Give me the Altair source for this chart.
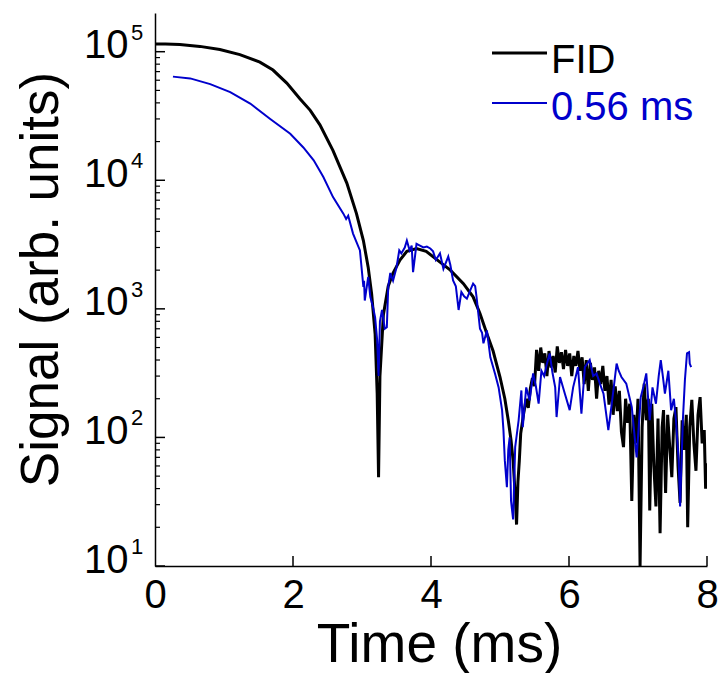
import altair as alt
import pandas as pd

# Free-induction decay (FID) signal versus time
fid_t = [0.00, 0.15, 0.36, 0.65, 0.94, 1.23, 1.52, 1.71, 1.91, 2.10, 2.25, 2.39, 2.58,
         2.78, 2.92, 3.02, 3.09, 3.14, 3.19, 3.22, 3.24, 3.26, 3.31, 3.38, 3.45, 3.55,
         3.65, 3.79, 3.93, 4.07, 4.28, 4.47, 4.61, 4.71, 4.81, 4.90, 5.00, 5.07, 5.12,
         5.16, 5.19, 5.22, 5.24, 5.26, 5.28, 5.30, 5.34, 5.38, 5.41, 5.44, 5.47, 5.50,
         5.53, 5.56, 5.59, 5.62, 5.65, 5.68, 5.71, 5.74, 5.77, 5.80, 5.83, 5.86, 5.89,
         5.92, 5.95, 5.98, 6.01, 6.04, 6.07, 6.10, 6.13, 6.16, 6.19, 6.22, 6.25, 6.28,
         6.31, 6.34, 6.37, 6.40, 6.43, 6.46, 6.49, 6.52, 6.55, 6.58, 6.61, 6.64, 6.67,
         6.70, 6.73, 6.76, 6.79, 6.82, 6.85, 6.88, 6.91, 6.94, 6.97, 7.00, 7.03, 7.06,
         7.09, 7.12, 7.15, 7.17, 7.20, 7.23, 7.26, 7.29, 7.32, 7.35, 7.37, 7.40, 7.43,
         7.46, 7.49, 7.52, 7.55, 7.58, 7.61, 7.64, 7.67, 7.70, 7.72, 7.75, 7.78, 7.81,
         7.84, 7.87, 7.90, 7.93, 7.96, 7.98, 8.00]
fid_v = [115000, 115000, 114000, 110000, 104000, 95000, 83000, 72000, 57000, 43000, 35000,
         27000, 17000, 9500, 5500, 3400, 2100, 1300, 640, 220, 49, 300, 900, 1500, 1900,
         2400, 2800, 2950, 2800, 2450, 2000, 1570, 1240, 920, 640, 470, 295, 200, 136,
         95, 66, 36, 21, 45, 66, 107, 150, 200, 170, 240, 290, 250,
         480, 330, 500, 380, 450, 300, 470, 350, 430, 320, 510, 380, 460,
         340, 480, 360, 450, 300, 430, 360, 470, 330, 420, 260, 400, 230,
         380, 280, 350, 200, 330, 260, 360, 230, 300, 180, 280, 150, 250,
         160, 230, 110, 84, 200, 130, 183, 32, 150, 90, 200, 10, 120,
         262, 136, 200, 27, 183, 60, 29, 140, 18, 120, 163, 37, 150,
         84, 49, 140, 172, 60, 31, 136, 80, 150, 20, 120, 196, 90,
         55, 150, 206, 90, 114, 40, 63]

# Signal after the 0.56 ms delay
echo_t = [0.26, 0.51, 0.80, 1.09, 1.38, 1.67, 1.96, 2.15, 2.30, 2.44, 2.58, 2.73, 2.77,
          2.80, 2.87, 2.97, 3.02, 3.03, 3.04, 3.09, 3.12, 3.16, 3.19, 3.22, 3.24, 3.26,
          3.29, 3.33, 3.36, 3.38, 3.41, 3.45, 3.50, 3.54, 3.57, 3.62, 3.65, 3.69, 3.72,
          3.74, 3.79, 3.84, 3.89, 3.94, 3.99, 4.03, 4.07, 4.13, 4.18, 4.25, 4.28, 4.32,
          4.36, 4.40, 4.44, 4.48, 4.52, 4.57, 4.61, 4.64, 4.66, 4.71, 4.74, 4.76, 4.81,
          4.86, 4.93, 4.98, 5.03, 5.05, 5.07, 5.10, 5.12, 5.14, 5.16, 5.19, 5.22, 5.27,
          5.31, 5.33, 5.38, 5.43, 5.48, 5.52, 5.56, 5.60, 5.64, 5.68, 5.72, 5.76, 5.80,
          5.82, 5.87, 5.94, 6.01, 6.06, 6.13, 6.18, 6.23, 6.30, 6.35, 6.40, 6.45, 6.50,
          6.57, 6.62, 6.69, 6.72, 6.76, 6.83, 6.91, 6.98, 7.04, 7.08, 7.12, 7.17, 7.21,
          7.26, 7.30, 7.33, 7.36, 7.39, 7.44, 7.48, 7.52, 7.55, 7.59, 7.61, 7.65, 7.68,
          7.71, 7.74, 7.75, 7.77]
echo_v = [64000, 62000, 56000, 48500, 39500, 30000, 23000, 18000, 14300, 10600, 7400, 5500,
          5000, 5300, 3850, 2850, 1480, 1650, 1160, 1770, 1240, 1030, 860, 570, 300, 800,
          980, 700, 720, 1480, 1900, 1660, 2100, 2850, 2700, 3000, 3400, 2850, 3100,
          1930, 3200, 3100, 3000, 3050, 2950, 2800, 2400, 2700, 2050, 2550, 2200, 1660,
          1500, 980, 1350, 1250, 1200, 1400, 1570, 1500, 1240, 700, 650, 540, 680,
          420, 310, 245, 163, 114, 66, 41, 80, 100, 32, 23, 84, 136,
          232, 120, 245, 194, 315, 250, 183, 330, 300, 375, 450, 320, 245,
          144, 295, 219, 163, 245, 352, 153, 352, 400, 300, 315, 260, 219,
          114, 183, 375, 330, 295, 262, 172, 70, 206, 250, 315, 136, 245,
          183, 300, 400, 300, 219, 330, 163, 200, 136, 66, 29, 136, 280,
          450, 460, 375, 352]

series_names = ["FID", "0.56 ms"]
series_colors = ["#000000", "#0000cc"]

major_ticks = [10, 100, 1000, 10000, 100000]
exponents = ["1", "2", "3", "4", "5"]
minor_ticks = [m * 10 ** d for d in range(1, 5) for m in range(2, 10)]
x_ticks = [2, 4, 6, 8]

fid = pd.DataFrame({"t": fid_t, "v": fid_v})
echo = pd.DataFrame({"t": echo_t, "v": echo_v})
majors = pd.DataFrame({"v": major_ticks, "e": exponents})
minors = pd.DataFrame({"v": minor_ticks})
xt = pd.DataFrame({"t": x_ticks})

W, H = 552, 553
FONT = "Liberation Sans"

xscale = alt.Scale(domain=[0, 8], nice=False)
yscale = alt.Scale(type="log", domain=[10, 200000], nice=False)

x_axis = alt.Axis(
    values=[0, 2, 4, 6, 8], format="d", ticks=False, grid=False, labelFontSize=40,
    labelFont=FONT, labelColor="black", labelPadding=9, labelFlush=False,
    domainColor="black", domainWidth=1.5,
    title="Time (ms)", titleFont=FONT, titleFontSize=55, titleFontWeight="normal",
    titleColor="black", titleBaseline="alphabetic", titleAnchor="middle",
    titleX=284, titleY=95,
)
y_axis = alt.Axis(
    values=major_ticks, ticks=False, grid=False, labelExpr="'10'",
    labelFontSize=40, labelFont=FONT, labelColor="black", labelPadding=27,
    labelBaseline="alphabetic", labelOffset=6, labelFlush=False,
    domainColor="black", domainWidth=1.5,
    title="Signal (arb. units)", titleFont=FONT, titleFontSize=53,
    titleFontWeight="normal", titleColor="black", titleBaseline="alphabetic",
    titleAngle=-90, titleAlign="center", titleX=-98, titleY=266,
)

fid_line = alt.Chart(fid).mark_line(
    color=series_colors[0], strokeWidth=3, clip=True
).encode(
    x=alt.X("t:Q", scale=xscale, axis=x_axis),
    y=alt.Y("v:Q", scale=yscale, axis=y_axis),
)

echo_line = alt.Chart(echo).mark_line(
    color=series_colors[1], strokeWidth=2, clip=True
).encode(
    x=alt.X("t:Q", scale=xscale),
    y=alt.Y("v:Q", scale=yscale),
)

# inward-pointing tick marks
major_rules = alt.Chart(majors).mark_rule(color="black", strokeWidth=1.5).encode(
    y=alt.Y("v:Q", scale=yscale), x=alt.value(0), x2=alt.value(10)
)
minor_rules = alt.Chart(minors).mark_rule(color="black", strokeWidth=1.2).encode(
    y=alt.Y("v:Q", scale=yscale), x=alt.value(0), x2=alt.value(5)
)
x_rules = alt.Chart(xt).mark_rule(color="black", strokeWidth=1.5).encode(
    x=alt.X("t:Q", scale=xscale), y=alt.value(H), y2=alt.value(H - 10)
)

# superscript exponents of the decade labels
exp_text = alt.Chart(majors).mark_text(
    font=FONT, fontSize=22, align="left", baseline="alphabetic", dy=-12, color="black"
).encode(
    y=alt.Y("v:Q", scale=yscale), x=alt.value(-24), text="e:N"
)

# legend
one = alt.Data(values=[{}])
leg_line1 = alt.Chart(one).mark_rule(color=series_colors[0], strokeWidth=3).encode(
    x=alt.value(337), x2=alt.value(392), y=alt.value(40)
)
leg_line2 = alt.Chart(one).mark_rule(color=series_colors[1], strokeWidth=2).encode(
    x=alt.value(337), x2=alt.value(392), y=alt.value(90)
)
leg_text1 = alt.Chart(one).mark_text(
    font=FONT, fontSize=40, align="left", baseline="alphabetic", color=series_colors[0]
).encode(x=alt.value(396), y=alt.value(60), text=alt.value(series_names[0]))
leg_text2 = alt.Chart(one).mark_text(
    font=FONT, fontSize=40, align="left", baseline="alphabetic", color=series_colors[1]
).encode(x=alt.value(396), y=alt.value(107), text=alt.value(series_names[1]))

chart = alt.layer(
    fid_line, echo_line, major_rules, minor_rules, x_rules, exp_text,
    leg_line1, leg_line2, leg_text1, leg_text2,
).properties(
    width=W, height=H,
    padding={"left": 155, "top": 13, "right": 13, "bottom": 107},
    autosize=alt.AutoSizeParams(type="none"),
    background="white",
).configure_view(stroke=None)

chart.save("out.html", embed_options={"renderer": "svg", "actions": False})
